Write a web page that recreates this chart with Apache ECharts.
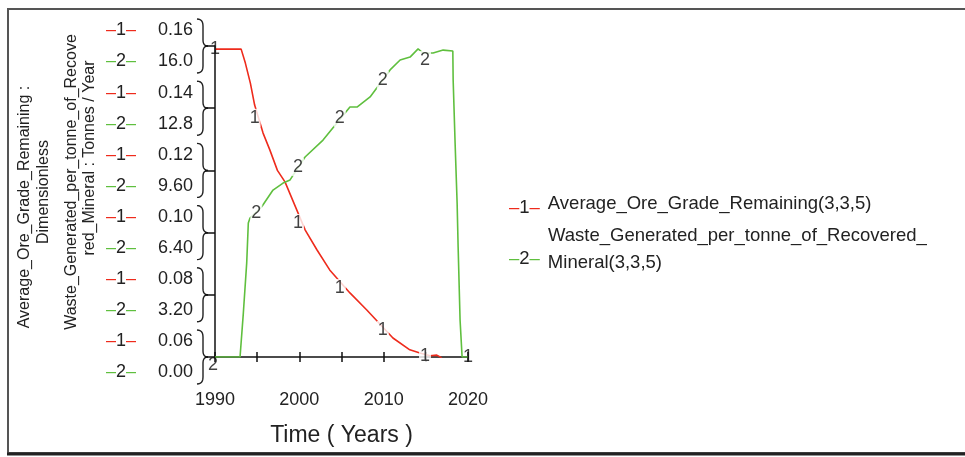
<!DOCTYPE html>
<html><head><meta charset="utf-8">
<script src="https://cdn.jsdelivr.net/npm/echarts@6/dist/echarts.min.js"></script>
<style>html,body{margin:0;padding:0;background:#fff}#c{width:965px;height:457px}</style>
</head><body><div id="c"></div>
<script>
// ---- data ----
const seriesNames = ['Average_Ore_Grade_Remaining(3,3,5)', 'Waste_Generated_per_tonne_of_Recovered_Mineral(3,3,5)'];
const oreYears  = [1990, 1993.1, 1993.6, 1994.2, 1994.7, 1995.7, 1996.5, 1997.4, 1998.3, 2000.7, 2002.1, 2003.6, 2006.0, 2008.0, 2011.1, 2013.1, 2014.3, 2015.5, 2016.3, 2016.9];
const oreValues = [0.159, 0.159, 0.1545, 0.148, 0.141, 0.132, 0.1266, 0.120, 0.1163, 0.1008, 0.0944, 0.088, 0.0806, 0.0751, 0.0661, 0.0623, 0.0613, 0.0604, 0.0606, 0.0597];
const wasteYears  = [1990, 1992.97, 1993.36, 1993.76, 1993.95, 1994.15, 1995.54, 1996.88, 1998.07, 1998.9, 2000.68, 2002.81, 2006.0, 2006.84, 2008.39, 2010.76, 2011.95, 2013.13, 2014.08, 2014.67, 2015.86, 2017.05, 2018.2, 2018.24, 2018.47, 2018.71, 2018.83, 2019.06, 2019.3, 2020];
const wasteValues = [0, 0, 2.26, 4.84, 6.89, 7.15, 7.73, 8.59, 8.95, 9.11, 10.29, 11.16, 12.86, 12.86, 13.38, 14.77, 15.28, 15.43, 15.85, 15.64, 15.64, 15.79, 15.74, 14.25, 11.01, 7.92, 5.66, 1.90, 0, 0];
const oreMarkerYears  = [1990, 1994.7, 1999.85, 2004.8, 2009.9, 2014.9, 2020];
const oreMarkerValues = [0.159, 0.1369, 0.1031, 0.0822, 0.0687, 0.0603, 0.06];
const wasteMarkerYears  = [1990, 1994.9, 1999.85, 2004.8, 2009.9, 2014.9];
const wasteMarkerValues = [0, 7.41, 9.77, 12.30, 14.25, 15.28];
const oreTickLabels   = ['0.06', '0.08', '0.10', '0.12', '0.14', '0.16'];
const wasteTickLabels = ['0.00', '3.20', '6.40', '9.60', '12.8', '16.0'];
const xTickLabels = ['1990', '2000', '2010', '2020'];
const yTitleLines = ['Average_Ore_Grade_Remaining :', 'Dimensionless', 'Waste_Generated_per_tonne_of_Recove', 'red_Mineral : Tonnes / Year'];
const xTitle = 'Time ( Years )';

const RED = '#ee2b1c', GREEN = '#5fbf3e', INK = '#222';
const FONT = '"Liberation Sans", Arial, sans-serif';

const chart = echarts.init(document.getElementById('c'));
const zip = (xs, ys) => xs.map((x, i) => [x, ys[i]]);

function markerData(xs, ys, transparentIdx, offsets) {
  return xs.map((x, i) => {
    const d = { value: [x, ys[i]] };
    if (transparentIdx.includes(i) || offsets[i]) {
      d.label = {};
      if (transparentIdx.includes(i)) d.label.backgroundColor = 'transparent';
      if (offsets[i]) d.label.offset = offsets[i];
    }
    return d;
  });
}

const markerLabel = (txt) => ({
  show: true, position: 'inside', formatter: txt,
  color: '#111', fontSize: 18, fontFamily: FONT,
  backgroundColor: '#fff', padding: [0, 1]
});

chart.setOption({
  animation: false,
  backgroundColor: '#fff',
  textStyle: { fontFamily: FONT },
  grid: { left: 215, top: 46, right: 497, bottom: 100, containLabel: false },
  xAxis: [{
    type: 'value', min: 1990, max: 2020, interval: 5, position: 'bottom',
    axisLine: { show: true, onZero: false, lineStyle: { color: '#111', width: 1.5 } },
    axisTick: { show: true, length: 5, lineStyle: { color: '#111', width: 1.5 } },
    axisLabel: { margin: 34, fontSize: 18, color: INK, fontFamily: FONT,
      formatter: v => xTickLabels.includes(String(v)) ? String(v) : '' },
    splitLine: { show: false },
    name: xTitle, nameLocation: 'middle', nameGap: 67,
    nameTextStyle: { fontSize: 23, color: INK, fontFamily: FONT }
  }, {
    type: 'value', min: 1990, max: 2020, interval: 5, position: 'bottom',
    axisLine: { show: false, onZero: false },
    axisTick: { show: true, inside: true, length: 5, lineStyle: { color: '#111', width: 1.5 } },
    axisLabel: { show: false }, splitLine: { show: false }
  }],
  yAxis: [{
    type: 'value', min: 0.06, max: 0.16, interval: 0.02, position: 'left',
    axisLine: { show: true, onZero: false, lineStyle: { color: '#111', width: 1.5 } },
    axisTick: { show: true, length: 10, lineStyle: { color: '#111', width: 1.5 } },
    splitLine: { show: false },
    axisLabel: {
      margin: 22, align: 'right',
      formatter: v => {
        const i = Math.round((v - 0.06) / 0.02);
        return '{r|–}{n|1}{r|–}{sp|}{v|' + oreTickLabels[i] + '}\n{g|–}{n|2}{g|–}{sp|}{v|' + wasteTickLabels[i] + '}';
      },
      rich: {
        r: { color: RED, fontSize: 18, lineHeight: 31, fontFamily: FONT },
        g: { color: GREEN, fontSize: 18, lineHeight: 31, fontFamily: FONT },
        n: { color: INK, fontSize: 18, lineHeight: 31, fontFamily: FONT },
        sp: { width: 22, lineHeight: 31 },
        v: { color: INK, fontSize: 18, lineHeight: 31, fontFamily: FONT }
      }
    }
  }, {
    type: 'value', min: 0, max: 16, interval: 3.2, position: 'left', show: false,
    splitLine: { show: false }
  }],
  legend: {
    orient: 'vertical', left: 499, top: 189, itemGap: 9, icon: 'none',
    itemWidth: 0, itemHeight: 0, selectedMode: false,
    data: seriesNames,
    formatter: name => {
      if (name === seriesNames[0]) return '{r|–}{n|1}{r|–}{sp|}{t|' + name + '}';
      return '{sp2|}{t|Waste_Generated_per_tonne_of_Recovered_}\n{g2|–}{n2|2}{g2|–}{sp|}{t|Mineral(3,3,5)}';
    },
    textStyle: {
      rich: {
        r: { color: RED, fontSize: 18.5, lineHeight: 19, verticalAlign: 'bottom', fontFamily: FONT },
        n: { color: INK, fontSize: 18.5, lineHeight: 10, verticalAlign: 'bottom', fontFamily: FONT },
        g2: { color: GREEN, fontSize: 18.5, lineHeight: 9, verticalAlign: 'top', fontFamily: FONT },
        n2: { color: INK, fontSize: 18.5, lineHeight: 23, verticalAlign: 'top', fontFamily: FONT },
        sp: { width: 8, lineHeight: 27 },
        sp2: { width: 39, lineHeight: 27 },
        t: { color: INK, fontSize: 18.5, lineHeight: 27, fontFamily: FONT }
      }
    }
  },
  series: [{
    name: seriesNames[0], type: 'line', xAxisIndex: 0, yAxisIndex: 0,
    data: zip(oreYears, oreValues), symbol: 'none', clip: true,
    lineStyle: { color: RED, width: 1.6 }, itemStyle: { color: RED }, z: 2
  }, {
    name: seriesNames[1], type: 'line', xAxisIndex: 0, yAxisIndex: 1,
    data: zip(wasteYears, wasteValues), symbol: 'none', clip: true,
    lineStyle: { color: GREEN, width: 1.6 }, itemStyle: { color: GREEN }, z: 2
  }, {
    name: 'ore-markers', type: 'scatter', xAxisIndex: 0, yAxisIndex: 0, silent: true,
    symbol: 'circle', symbolSize: 1, itemStyle: { color: 'rgba(0,0,0,0)' }, clip: false,
    label: markerLabel('1'), z: 5,
    data: markerData(oreMarkerYears, oreMarkerValues, [0, 6], {})
  }, {
    name: 'waste-markers', type: 'scatter', xAxisIndex: 0, yAxisIndex: 1, silent: true,
    symbol: 'circle', symbolSize: 1, itemStyle: { color: 'rgba(0,0,0,0)' }, clip: false,
    label: markerLabel('2'), z: 5,
    data: markerData(wasteMarkerYears, wasteMarkerValues, [0], { 0: [-2, 8] })
  }]
});

// decorations: frame, rotated axis titles, braces tied to axis ticks
const titleCenters = [[25, 207], [44, 192], [72, 182], [90, 158]];
const graphics = [
  { type: 'rect', shape: { x: 8, y: 9, width: 980, height: 444 }, style: { fill: null, stroke: '#555', lineWidth: 2 }, silent: true },
  { type: 'line', shape: { x1: 7, y1: 454, x2: 965, y2: 454 }, style: { stroke: '#222', lineWidth: 3 }, silent: true }
];
yTitleLines.forEach((t, i) => graphics.push({
  type: 'text', x: titleCenters[i][0], y: titleCenters[i][1], rotation: Math.PI / 2, silent: true,
  style: { text: t, fontSize: 16, fontFamily: FONT, fill: INK, align: 'center', verticalAlign: 'middle' }
}));
function quad(p0, p1, p2, n) {
  const pts = [];
  for (let k = 0; k <= n; k++) {
    const t = k / n, a = (1 - t) * (1 - t), b = 2 * (1 - t) * t, c = t * t;
    pts.push([a * p0[0] + b * p1[0] + c * p2[0], a * p0[1] + b * p1[1] + c * p2[1]]);
  }
  return pts;
}
const axisX = chart.convertToPixel({ xAxisIndex: 0 }, 1990);
oreTickLabels.forEach(lbl => {
  const y = chart.convertToPixel({ yAxisIndex: 0 }, Number(lbl));
  const L = axisX - 18, M = axisX - 12, T = axisX - 7;
  const top = quad([L, y - 27], [M, y - 27], [M, y - 20], 6)
    .concat(quad([M, y - 6], [M, y], [T, y], 6));
  const bot = quad([T, y], [M, y], [M, y + 6], 6)
    .concat(quad([M, y + 20], [M, y + 27], [L, y + 27], 6));
  graphics.push({ type: 'polyline', shape: { points: top }, style: { fill: null, stroke: '#222', lineWidth: 1.4 }, silent: true });
  graphics.push({ type: 'polyline', shape: { points: bot }, style: { fill: null, stroke: '#222', lineWidth: 1.4 }, silent: true });
});
chart.setOption({ graphic: graphics });
</script></body></html>
